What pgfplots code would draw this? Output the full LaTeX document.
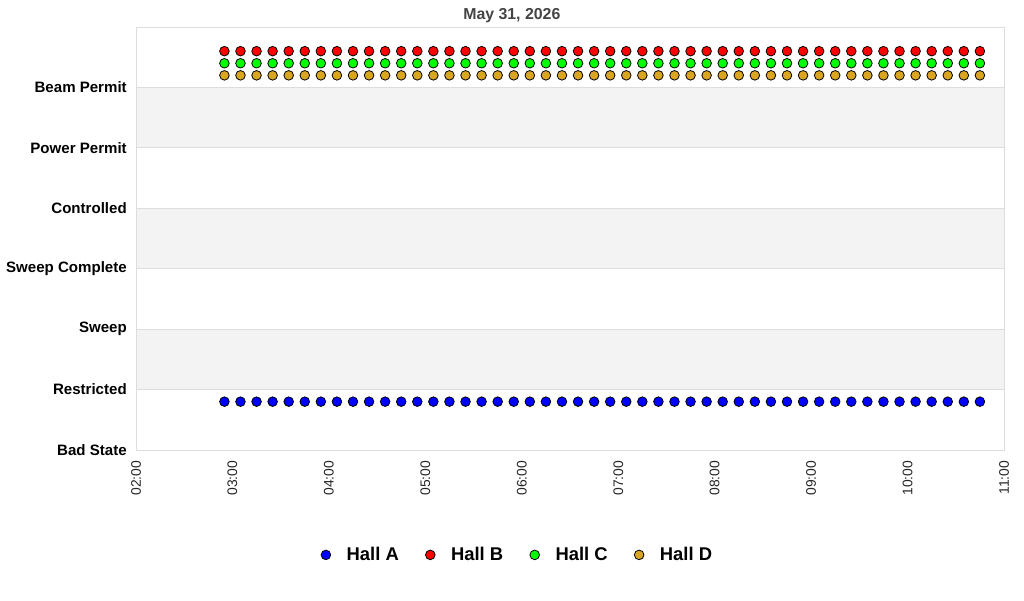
\documentclass[border=0pt]{standalone}
\usepackage{pgfplots}
\pgfplotsset{compat=1.18}
\usepackage{pgfplotstable}
\usepackage{fontspec}
\setmainfont{Liberation Sans}

\definecolor{hallA}{RGB}{0,0,255}
\definecolor{hallB}{RGB}{255,0,0}
\definecolor{hallC}{RGB}{0,255,0}
\definecolor{hallD}{RGB}{218,165,32}
\definecolor{band}{RGB}{243,243,243}
\definecolor{frame}{RGB}{221,221,221}
\definecolor{titlegray}{RGB}{68,68,68}

% time in minutes after midnight, hall states
\pgfplotstableread{
t   A   B   C   D
175 0.8 6.6 6.4 6.2
185 0.8 6.6 6.4 6.2
195 0.8 6.6 6.4 6.2
205 0.8 6.6 6.4 6.2
215 0.8 6.6 6.4 6.2
225 0.8 6.6 6.4 6.2
235 0.8 6.6 6.4 6.2
245 0.8 6.6 6.4 6.2
255 0.8 6.6 6.4 6.2
265 0.8 6.6 6.4 6.2
275 0.8 6.6 6.4 6.2
285 0.8 6.6 6.4 6.2
295 0.8 6.6 6.4 6.2
305 0.8 6.6 6.4 6.2
315 0.8 6.6 6.4 6.2
325 0.8 6.6 6.4 6.2
335 0.8 6.6 6.4 6.2
345 0.8 6.6 6.4 6.2
355 0.8 6.6 6.4 6.2
365 0.8 6.6 6.4 6.2
375 0.8 6.6 6.4 6.2
385 0.8 6.6 6.4 6.2
395 0.8 6.6 6.4 6.2
405 0.8 6.6 6.4 6.2
415 0.8 6.6 6.4 6.2
425 0.8 6.6 6.4 6.2
435 0.8 6.6 6.4 6.2
445 0.8 6.6 6.4 6.2
455 0.8 6.6 6.4 6.2
465 0.8 6.6 6.4 6.2
475 0.8 6.6 6.4 6.2
485 0.8 6.6 6.4 6.2
495 0.8 6.6 6.4 6.2
505 0.8 6.6 6.4 6.2
515 0.8 6.6 6.4 6.2
525 0.8 6.6 6.4 6.2
535 0.8 6.6 6.4 6.2
545 0.8 6.6 6.4 6.2
555 0.8 6.6 6.4 6.2
565 0.8 6.6 6.4 6.2
575 0.8 6.6 6.4 6.2
585 0.8 6.6 6.4 6.2
595 0.8 6.6 6.4 6.2
605 0.8 6.6 6.4 6.2
615 0.8 6.6 6.4 6.2
625 0.8 6.6 6.4 6.2
635 0.8 6.6 6.4 6.2
645 0.8 6.6 6.4 6.2
}\halls

\begin{document}
\begin{tikzpicture}
\path[use as bounding box] (0pt,0pt) rectangle (768pt,450pt);
\begin{axis}[
    at={(102pt,112.5pt)}, anchor=south west,
    scale only axis,
    width=651pt, height=317.25pt,
    xmin=120, xmax=660,
    ymin=0, ymax=7,
    axis on top,
    xtick={120,180,240,300,360,420,480,540,600,660},
    xticklabels={02:00,03:00,04:00,05:00,06:00,07:00,08:00,09:00,10:00,11:00},
    ytick={0,1,2,3,4,5,6},
    yticklabels={Bad State,Restricted,Sweep,Sweep Complete,Controlled,Power Permit,Beam Permit},
    major tick length=0pt,
    xticklabel style={rotate=90, anchor=east, font=\fontsize{10.4pt}{12pt}\selectfont, text=black!85, inner sep=0pt},
    xticklabel shift=8pt,
    yticklabel style={font=\fontsize{11.3pt}{13pt}\selectfont\bfseries, inner sep=0pt, xshift=-6.75pt},
    axis line style={frame},
    ymajorgrids,
    major grid style={frame, line width=0.75pt},
    title={May 31, 2026},
    title style={at={(0.433,1)}, font=\fontsize{11.9pt}{13pt}\selectfont\bfseries, text=titlegray, yshift=-6.5pt},
    legend columns=4,
    legend style={at={(0.44,-0.248)}, anchor=center, draw=none, fill=none,
        font=\fontsize{13.8pt}{15pt}\selectfont\bfseries,
        /tikz/every odd column/.append style={column sep=10pt},
        /tikz/every even column/.append style={column sep=18pt}},
    mark size=3.6pt,
]
\addplot[only marks, mark=*, mark options={fill=hallA, draw=black, line width=0.6pt}] table[x=t, y=A] {\halls};
\addplot[only marks, mark=*, mark options={fill=hallB, draw=black, line width=0.6pt}] table[x=t, y=B] {\halls};
\addplot[only marks, mark=*, mark options={fill=hallC, draw=black, line width=0.6pt}] table[x=t, y=C] {\halls};
\addplot[only marks, mark=*, mark options={fill=hallD, draw=black, line width=0.6pt}] table[x=t, y=D] {\halls};
\legend{Hall A,Hall B,Hall C,Hall D}
\fill[band] (axis cs:120,5) rectangle (axis cs:660,6);
\fill[band] (axis cs:120,3) rectangle (axis cs:660,4);
\fill[band] (axis cs:120,1) rectangle (axis cs:660,2);
\end{axis}
\end{tikzpicture}
\end{document}
